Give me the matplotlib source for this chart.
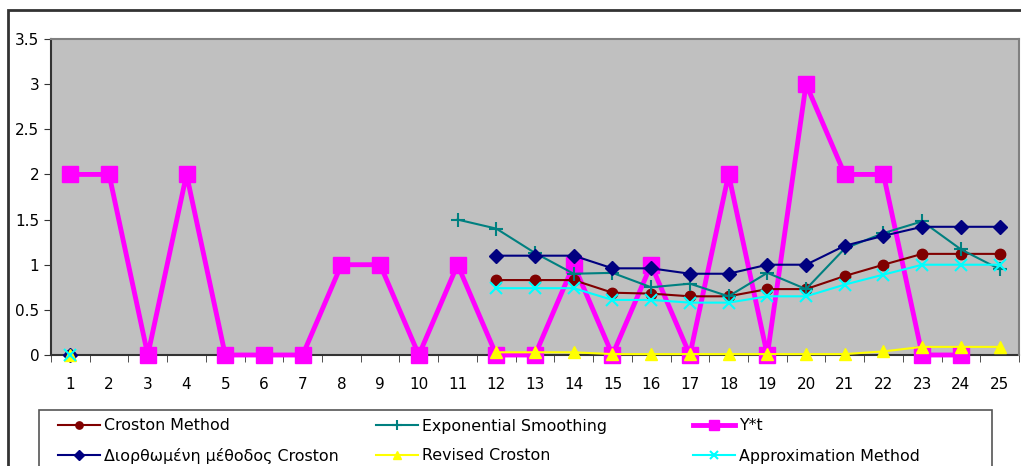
import matplotlib
matplotlib.use("Agg")
import matplotlib.pyplot as plt
from matplotlib.patches import Rectangle
import numpy as np

periods = list(range(1, 26))
nan = np.nan

croston = [0] + [nan]*10 + [0.83, 0.83, 0.83, 0.69, 0.68, 0.65, 0.65, 0.73, 0.73, 0.875, 1.0, 1.12, 1.12, 1.12]
exp_smooth = [nan]*10 + [1.5, 1.40, 1.13, 0.90, 0.91, 0.75, 0.79, 0.65, 0.91, 0.73, 1.18, 1.35, 1.48, 1.17, 0.95]
y_star = [2, 2, 0, 2, 0, 0, 0, 1, 1, 0, 1, 0, 0, 1, 0, 1, 0, 2, 0, 3, 2, 2, 0, 0, nan]
revised_croston_gr = [0] + [nan]*10 + [1.10, 1.10, 1.10, 0.96, 0.96, 0.90, 0.90, 1.0, 1.0, 1.21, 1.32, 1.42, 1.42, 1.42]
revised = [0] + [nan]*10 + [0.03, 0.03, 0.03, 0.01, 0.01, 0.01, 0.01, 0.01, 0.01, 0.01, 0.04, 0.09, 0.09, 0.09]
approx = [0] + [nan]*10 + [0.74, 0.74, 0.74, 0.61, 0.61, 0.58, 0.58, 0.65, 0.65, 0.78, 0.89, 1.0, 1.0, 1.0]

labels = ["Croston Method", "Exponential Smoothing", "Y*t",
          "Διορθωμένη μέθοδος Croston", "Revised Croston", "Approximation Method"]
yticks = [0, 0.5, 1, 1.5, 2, 2.5, 3, 3.5]
ytick_labels = ["0", "0.5", "1", "1.5", "2", "2.5", "3", "3.5"]

W, H = 1021, 466
fig = plt.figure(figsize=(W/100, H/100), dpi=100)
fig.patch.set_facecolor("white")

ax = fig.add_axes([51/W, 1-355/H, (1019-51)/W, (355-39)/H])
ax.set_facecolor("#C0C0C0")

x = np.array(periods)
kw = dict(clip_on=False)
h_y, = ax.plot(x, y_star, color="#FF00FF", lw=3.5, marker="s", ms=11, mfc="#FF00FF", mec="#FF00FF", zorder=2.5, **kw)
h_cro, = ax.plot(x, croston, color="#800000", lw=1.5, marker="o", ms=7.5, mfc="#800000", mec="#800000", zorder=3, **kw)
h_exp, = ax.plot(x, exp_smooth, color="#008080", lw=1.5, marker="+", ms=10, mew=1.5, zorder=3, **kw)
h_dio, = ax.plot(x, revised_croston_gr, color="#000080", lw=1.5, marker="D", ms=7, mfc="#000080", mec="#000080", zorder=3, **kw)
h_rev, = ax.plot(x, revised, color="#FFFF00", lw=1.5, marker="^", ms=9, mfc="#FFFF00", mec="#FFFF00", zorder=3, **kw)
h_app, = ax.plot(x, approx, color="#00FFFF", lw=1.5, marker="x", ms=9, mew=1.5, zorder=3, **kw)

ax.set_xlim(0.5, 25.5)
ax.set_ylim(0, 3.5)
ax.set_yticks(yticks)
ax.set_yticklabels(ytick_labels)
ax.set_xticks(x)
ax.set_xticklabels([str(p) for p in periods])
ax.set_xticks(np.arange(0.5, 26, 1), minor=True)
ax.tick_params(axis="x", which="major", length=0, pad=16, labelsize=11)
ax.tick_params(axis="x", which="minor", length=5, direction="out", color="#333333")
ax.tick_params(axis="y", length=5, direction="out", labelsize=11, color="#333333")
for s in ["top", "right"]:
    ax.spines[s].set_color("#808080")
    ax.spines[s].set_linewidth(1.5)
for s in ["left", "bottom"]:
    ax.spines[s].set_color("#333333")
    ax.spines[s].set_linewidth(1.5)
    ax.spines[s].set_zorder(2)

# outer chart border
fig.add_artist(Rectangle((8/W, -0.1), 1.2, 1 - 10/H + 0.1, transform=fig.transFigure,
                         fill=False, edgecolor="#333333", lw=2, clip_on=False))
# legend border
fig.add_artist(Rectangle((39/W, -0.1), (992-39)/W, 1 - 410/H + 0.1, transform=fig.transFigure,
                         fill=False, edgecolor="#555555", lw=1.2, clip_on=False))

handles = [h_cro, h_exp, h_y, h_dio, h_rev, h_app]
col_x = [58, 376, 693]
row_y = [426, 456]
fs = 11.4
for i, (hd, lab) in enumerate(zip(handles, labels)):
    cx = col_x[i % 3]
    cy = row_y[i // 3]
    lg = fig.legend([hd], [lab], loc="center left",
                    bbox_to_anchor=(cx/W, 1-cy/H), bbox_transform=fig.transFigure,
                    frameon=False, prop={"family": "DejaVu Sans", "size": fs},
                    handlelength=42/(fs*100/72), handletextpad=0.25,
                    borderpad=0.0, borderaxespad=0.0, markerscale=0.7)

fig.savefig("out.png", dpi=100)
